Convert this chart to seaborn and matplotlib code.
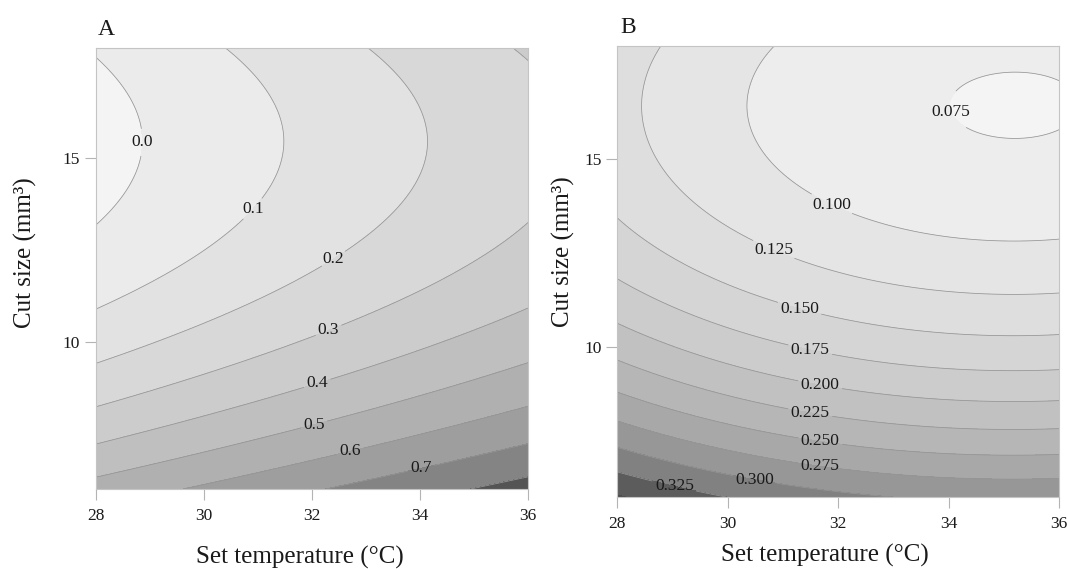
import numpy as np
import matplotlib
matplotlib.use('Agg')
import matplotlib.pyplot as plt
import seaborn as sns

a_temp = [28, 28, 28, 28, 28, 28, 28,
          36, 36, 36, 36, 36, 36, 36,
          30.40, 33.01, 35.74, 29.60, 32.28, 34.87,
          28.86, 31.44, 34.12,
          30.90, 32.40, 32.30, 32.10, 32.04, 32.70, 34.02]
a_size = [17.76, 13.14, 10.88, 9.43, 8.24, 7.23, 6.33,
          17.70, 13.25, 10.93, 9.43, 8.25, 7.25, 6.33,
          18, 18, 18, 6, 6, 6,
          15.45, 15.45, 15.45,
          13.63, 12.26, 10.34, 8.86, 7.74, 7.02, 6.54]
a_level = [0.0, 0.0, 0.1, 0.2, 0.3, 0.4, 0.5,
           0.3, 0.3, 0.4, 0.5, 0.6, 0.7, 0.8,
           0.1, 0.2, 0.3, 0.6, 0.7, 0.8,
           0.0, 0.1, 0.2,
           0.1, 0.2, 0.3, 0.4, 0.5, 0.6, 0.7]

b_temp = [28, 28, 28, 28, 28, 28, 28, 28,
          36, 36, 36, 36, 36, 36, 36, 36, 36, 36,
          30.86, 28.77,
          30.37, 28.42, 34.18, 35.42, 35.42,
          31.89, 30.83, 31.30, 31.49, 31.67, 31.49, 31.67, 31.67, 30.49, 29.03]
b_size = [13.42, 11.82, 10.62, 9.63, 8.80, 8.04, 7.33, 6.68,
          17.19, 15.73, 12.86, 11.42, 10.33, 9.37, 8.59, 7.82, 7.15, 6.49,
          18, 18,
          16.47, 16.46, 16.46, 17.31, 15.59,
          13.82, 12.58, 11.02, 9.91, 8.98, 8.24, 7.47, 6.82, 6.47, 6.27]
b_level = [0.150, 0.175, 0.200, 0.225, 0.250, 0.275, 0.300, 0.325,
           0.075, 0.075, 0.100, 0.125, 0.150, 0.175, 0.200, 0.225, 0.250, 0.275,
           0.100, 0.125,
           0.100, 0.125, 0.075, 0.075, 0.075,
           0.100, 0.125, 0.150, 0.175, 0.200, 0.225, 0.250, 0.275, 0.300, 0.325]

a_lines = [0.0, 0.1, 0.2, 0.3, 0.4, 0.5, 0.6, 0.7, 0.8]
a_bands = [-0.1, 0.0, 0.1, 0.2, 0.3, 0.4, 0.5, 0.6, 0.7, 0.8, 0.9]
b_lines = [0.075, 0.100, 0.125, 0.150, 0.175, 0.200, 0.225, 0.250, 0.275, 0.300, 0.325]
b_bands = [0.050, 0.075, 0.100, 0.125, 0.150, 0.175, 0.200, 0.225, 0.250,
           0.275, 0.300, 0.325, 0.350, 0.375]

x_ticks = [28, 30, 32, 34, 36]
y_ticks = [10, 15]

# label spots on the lines
a_label_pos = [(28.87, 15.43), (30.90, 13.63), (32.40, 12.26), (32.30, 10.34),
               (32.10, 8.86), (32.04, 7.74), (32.70, 7.02), (34.02, 6.54)]
b_label_pos = [(34.16, 16.33), (31.89, 13.82), (30.83, 12.58), (31.30, 11.02),
               (31.49, 9.91), (31.67, 8.98), (31.49, 8.24), (31.67, 7.47),
               (31.67, 6.82), (30.49, 6.47), (29.03, 6.27)]


def fit_surface(t, s, z):
    # second order response surface through the read points
    t, s, z = np.asarray(t, float), np.asarray(s, float), np.asarray(z, float)
    X = np.column_stack([np.ones_like(t), t, s, t * t, s * s, t * s])
    return np.linalg.lstsq(X, z, rcond=None)[0]


def eval_surface(c, T, S):
    return c[0] + c[1] * T + c[2] * S + c[3] * T * T + c[4] * S * S + c[5] * T * S


def grays(n, light, dark, gamma=3.2):
    v = np.linspace(light ** gamma, dark ** gamma, n) ** (1 / gamma)
    return [(g, g, g) for g in v]


sns.set_theme(style='white')
plt.rcParams['font.family'] = ['Liberation Serif', 'DejaVu Serif']

fig = plt.figure(figsize=(10.68, 5.69), dpi=100)
ax_a = fig.add_axes([0.0899, 0.1406, 0.4045, 0.7750])
ax_b = fig.add_axes([0.5780, 0.1265, 0.4136, 0.7921])

T, S = np.meshgrid(np.linspace(28, 36, 300), np.linspace(6, 18, 300))

panels = [
    (ax_a, a_temp, a_size, a_level, a_bands, a_lines, a_label_pos, '%.1f',
     grays(len(a_bands) - 1, 0.955, 0.33), (-0.164, 0.537), (0.473, -0.170)),
    (ax_b, b_temp, b_size, b_level, b_bands, b_lines, b_label_pos, '%.3f',
     grays(len(b_bands) - 2, 0.955, 0.36) + [(0.30, 0.30, 0.30)], (-0.123, 0.544), (0.470, -0.144)),
]

for ax, t, s, z, bands, lines, pos, fmt, cols, ylab, xlab in panels:
    coef = fit_surface(t, s, z)
    Z = eval_surface(coef, T, S)
    ax.contourf(T, S, Z, levels=bands, colors=cols, extend='both')
    cs = ax.contour(T, S, Z, levels=lines, colors='#959595', linewidths=0.55)
    ax.set_xlim(28, 36)
    ax.set_ylim(6, 18)
    labels = ax.clabel(cs, fmt=fmt, fontsize=12.5, colors='#1a1a1a', inline=True,
                       inline_spacing=3, manual=pos)
    for lab in labels:
        lab.set_rotation(0)
    ax.set_xticks(x_ticks)
    ax.set_yticks(y_ticks)
    ax.tick_params(direction='out', length=8, width=0.8, color='#b4b4b4',
                   labelsize=12.5, labelcolor='#1a1a1a', bottom=True, left=True)
    ax.tick_params(axis='x', pad=6)
    ax.tick_params(axis='y', pad=3.5)
    for sp in ax.spines.values():
        sp.set_color('#c4c4c4')
        sp.set_linewidth(0.8)
    ax.set_xlabel('Set temperature (°C)', fontsize=18, color='#1a1a1a')
    ax.set_ylabel('Cut size (mm³)', fontsize=18, color='#1a1a1a')
    ax.xaxis.set_label_coords(*xlab)
    ax.xaxis.label.set_va('baseline')
    ax.yaxis.set_label_coords(*ylab)
    ax.yaxis.label.set_va('center')

fig.text(0.0918, 0.9385, 'A', fontsize=17, color='#1a1a1a', va='baseline')
fig.text(0.5805, 0.9420, 'B', fontsize=17, color='#1a1a1a', va='baseline')

fig.savefig('out.png', dpi=100)
